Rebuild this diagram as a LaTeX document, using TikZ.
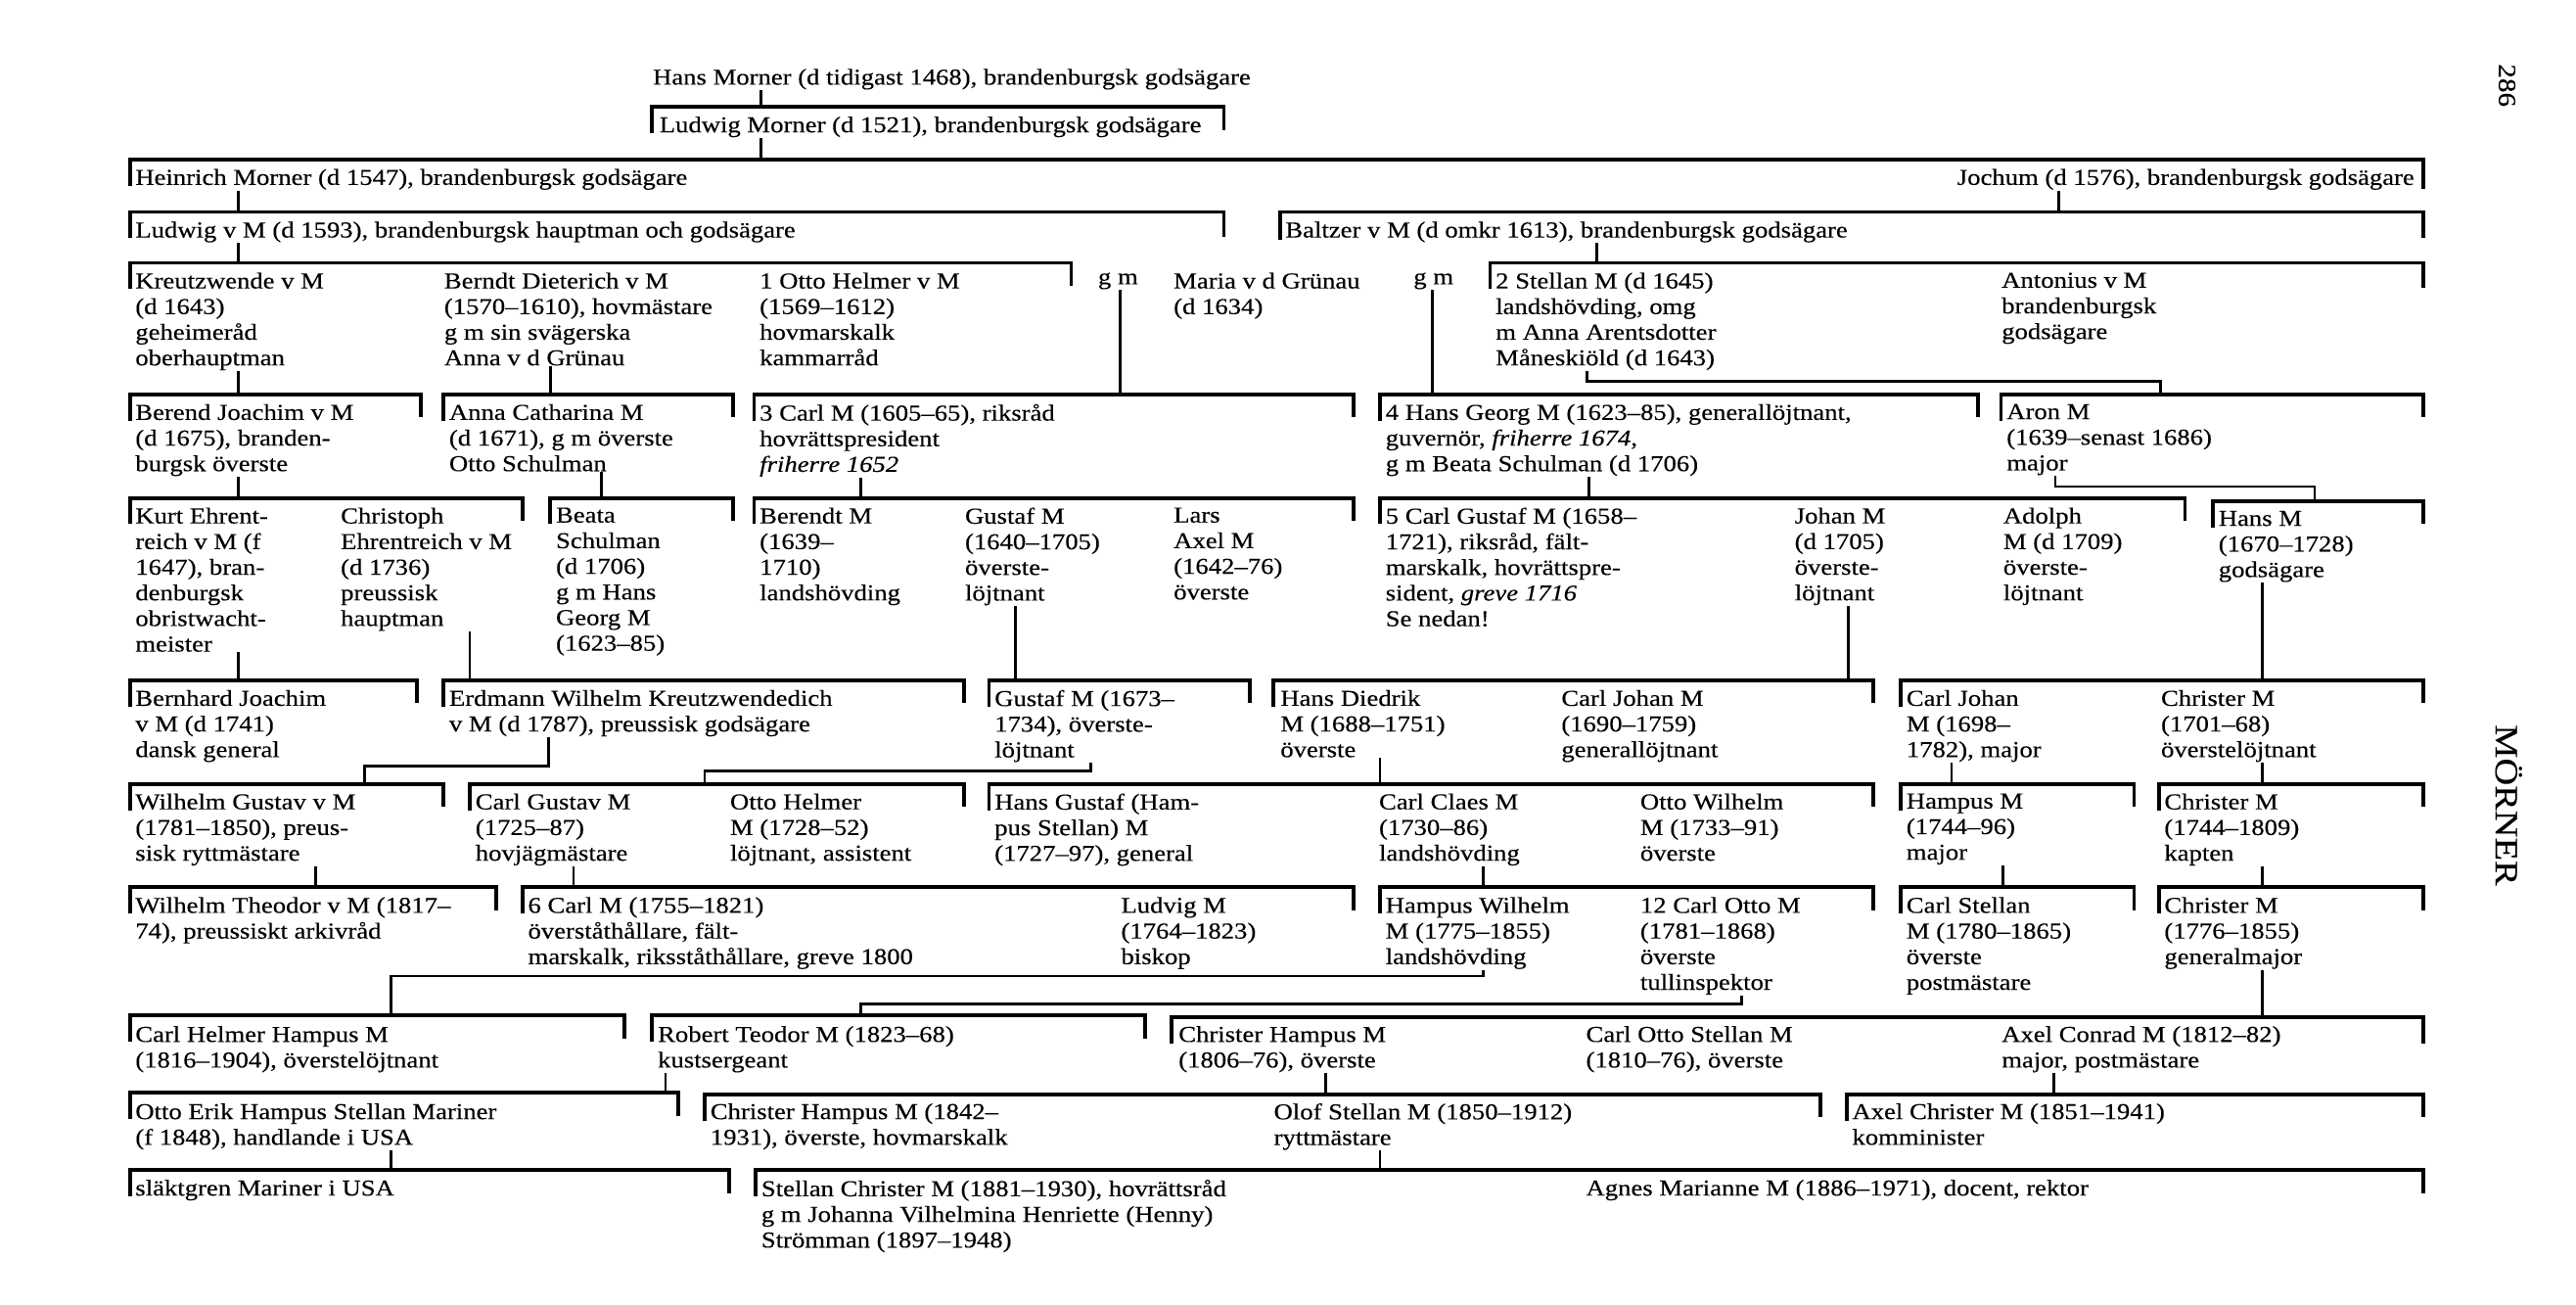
\documentclass[tikz,border=0pt]{standalone}
\usepackage{fontspec}
\setmainfont{Liberation Serif}[FakeStretch=1.15, FakeBold=0.3]
\newcommand{\chartfont}{\fontsize{6.6}{7.45}\selectfont}

\begin{document}
\begin{tikzpicture}[x=0.016786cm, y=-0.016786cm,
    pers/.style={anchor=north west, inner sep=0pt, align=left, font=\chartfont},
    brk/.style={line width=1.1pt},
    ln/.style={line width=0.75pt}]
  \useasboundingbox (0,0) rectangle (1568,794);

  % Page number and family name
  \node[rotate=-90, font=\fontsize{7.2}{8}\selectfont] (page) at (1526,52) {286};
  \node[rotate=-90, font=\fontsize{9.5}{11}\selectfont] (family) at (1527,490) {MÖRNER};

  % Oldest generations
  \node[pers] (hans) at (397,41.5) {Hans Morner (d tidigast 1468), brandenburgsk godsägare};
  \draw[ln] (hans.south -| 463,0) -- (463,65);
  \draw[brk] (397,81) |- (745,65) -- (745,79);
  \node[pers] (ludwigm) at (401,70.5) {Ludwig Morner (d 1521), brandenburgsk godsägare};
  \draw[ln] (ludwigm.south -| 463,0) -- (463,97);
  \draw[brk] (79,113) |- (1475,97) -- (1475,115);
  \node[pers] (heinrich) at (82,102.5) {Heinrich Morner (d 1547), brandenburgsk godsägare};
  \node[pers, anchor=north east] (jochum) at (1470,102.5) {Jochum (d 1576), brandenburgsk godsägare};
  \draw[ln] (heinrich.south -| 145,0) -- (145,129);
  \draw[ln] (jochum.south -| 1253,0) -- (1253,129);
  \draw[brk] (79,145) |- (745,129) -- (745,144);
  \draw[brk] (779,146) |- (1475,129) -- (1475,145);
  \node[pers] (ludwigvm) at (82,134.5) {Ludwig v M (d 1593), brandenburgsk hauptman och godsägare};
  \node[pers] (baltzer) at (782,134.5) {Baltzer v M (d omkr 1613), brandenburgsk godsägare};
  \draw[ln] (ludwigvm.south -| 145,0) -- (145,160);
  \draw[ln] (baltzer.south -| 972,0) -- (972,160);

  % Children of Ludwig and Baltzer
  \draw[brk] (79,176) |- (652,160) -- (652,174);
  \draw[brk] (907,176) |- (1475,160) -- (1475,175);
  \node[pers] (kreutz) at (82,165.5) {Kreutzwende v M\\(d 1643)\\geheimeråd\\oberhauptman};
  \node[pers] (berndt) at (270,165.5) {Berndt Dieterich v M\\(1570--1610), hovmästare\\g m sin svägerska\\Anna v d Grünau};
  \node[pers] (ottoh) at (462,165.5) {1 Otto Helmer v M\\(1569--1612)\\hovmarskalk\\kammarråd};
  \node[pers] (gma) at (668,165.5) {g m};
  \node[pers] (maria) at (714,165.5) {Maria v d Grünau\\(d 1634)};
  \node[pers] (gmb) at (860,165.5) {g m};
  \node[pers] (stellan) at (910,165.5) {2 Stellan M (d 1645)\\landshövding, omg\\m Anna Arentsdotter\\Måneskiöld (d 1643)};
  \node[pers] (antonius) at (1218,165.5) {Antonius v M\\brandenburgsk\\godsägare};
  \draw[ln] (kreutz.south -| 145,0) -- (145,240);
  \draw[ln] (berndt.south -| 335,0) -- (335,240);
  \draw[ln] (gma.south -| 682,0) -- (682,240);
  \draw[ln] (gmb.south -| 872,0) -- (872,240);
  \draw[ln] (stellan.south -| 966,0) -- (966,232) -- (1315,232) -- (1315,240);

  % Next generation
  \draw[brk] (79,256) |- (256,240) -- (256,254);
  \draw[brk] (270,256) |- (446,240) -- (446,254);
  \draw[brk] (459,256) |- (824,240) -- (824,254);
  \draw[brk] (840,256) |- (1204,240) -- (1204,254);
  \draw[brk] (1218,256) |- (1475,240) -- (1475,254);
  \node[pers] (berend) at (82,245.5) {Berend Joachim v M\\(d 1675), branden-\\burgsk överste};
  \node[pers] (annac) at (273,245.5) {Anna Catharina M\\(d 1671), g m överste\\Otto Schulman};
  \node[pers] (carl3) at (462,245.5) {3 Carl M (1605--65), riksråd\\hovrättspresident\\\textit{friherre 1652}};
  \node[pers] (hansg) at (843,245.5) {4 Hans Georg M (1623--85), generallöjtnant,\\guvernör, \textit{friherre 1674},\\g m Beata Schulman (d 1706)};
  \node[pers] (aron) at (1221,245.5) {Aron M\\(1639--senast 1686)\\major};
  \draw[ln] (berend.south -| 145,0) -- (145,303);
  \draw[ln] (annac.south -| 366,0) -- (366,303);
  \draw[ln] (carl3.south -| 524,0) -- (524,303);
  \draw[ln] (hansg.south -| 967,0) -- (967,303);
  \draw[ln] (aron.south -| 1251,0) -- (1251,296) -- (1409,296) -- (1409,305);

  \draw[brk] (79,319) |- (318,303) -- (318,317);
  \draw[brk] (335,319) |- (446,303) -- (446,317);
  \draw[brk] (459,319) |- (824,303) -- (824,317);
  \draw[brk] (840,319) |- (1330,303) -- (1330,317);
  \draw[brk] (1347,321) |- (1475,305) -- (1475,319);
  \node[pers] (kurt) at (82,308.5) {Kurt Ehrent-\\reich v M (f\\1647), bran-\\denburgsk\\obristwacht-\\meister};
  \node[pers] (christoph) at (207,308.5) {Christoph\\Ehrentreich v M\\(d 1736)\\preussisk\\hauptman};
  \node[pers] (beata) at (338,308.5) {Beata\\Schulman\\(d 1706)\\g m Hans\\Georg M\\(1623--85)};
  \node[pers] (berendt) at (462,308.5) {Berendt M\\(1639--\\1710)\\landshövding};
  \node[pers] (gustafa) at (587,308.5) {Gustaf M\\(1640--1705)\\överste-\\löjtnant};
  \node[pers] (lars) at (714,308.5) {Lars\\Axel M\\(1642--76)\\överste};
  \node[pers] (carlg5) at (843,308.5) {5 Carl Gustaf M (1658--\\1721), riksråd, fält-\\marskalk, hovrättspre-\\sident, \textit{greve 1716}\\Se nedan!};
  \node[pers] (johan) at (1092,308.5) {Johan M\\(d 1705)\\överste-\\löjtnant};
  \node[pers] (adolph) at (1219,308.5) {Adolph\\M (d 1709)\\överste-\\löjtnant};
  \node[pers] (hansm) at (1350,310.5) {Hans M\\(1670--1728)\\godsägare};
  \draw[ln] (kurt.south -| 145,0) -- (145,414);
  \draw[ln] (christoph.south -| 286,0) -- (286,414);
  \draw[ln] (gustafa.south -| 618,0) -- (618,414);
  \draw[ln] (johan.south -| 1125,0) -- (1125,414);
  \draw[ln] (hansm.south -| 1377,0) -- (1377,414);

  \draw[brk] (79,430) |- (254,414) -- (254,428);
  \draw[brk] (270,430) |- (587,414) -- (587,428);
  \draw[brk] (602,430) |- (761,414) -- (761,428);
  \draw[brk] (775,430) |- (1140,414) -- (1140,428);
  \draw[brk] (1157,430) |- (1475,414) -- (1475,428);
  \node[pers] (bernhard) at (82,419.5) {Bernhard Joachim\\v M (d 1741)\\dansk general};
  \node[pers] (erdmann) at (273,419.5) {Erdmann Wilhelm Kreutzwendedich\\v M (d 1787), preussisk godsägare};
  \node[pers] (gustafb) at (605,419.5) {Gustaf M (1673--\\1734), överste-\\löjtnant};
  \node[pers] (hansd) at (779,419.5) {Hans Diedrik\\M (1688--1751)\\överste};
  \node[pers] (carlja) at (950,419.5) {Carl Johan M\\(1690--1759)\\generallöjtnant};
  \node[pers] (carljb) at (1160,419.5) {Carl Johan\\M (1698--\\1782), major};
  \node[pers] (christera) at (1315,419.5) {Christer M\\(1701--68)\\överstelöjtnant};
  \draw[ln] (erdmann.south -| 334,0) -- (334,466) -- (222,466) -- (222,477);
  \draw[ln] (gustafb.south -| 664,0) -- (664,469) -- (429,469) -- (429,477);
  \draw[ln] (hansd.south -| 840,0) -- (840,477);
  \draw[ln] (carljb.south -| 1188,0) -- (1188,477);
  \draw[ln] (christera.south -| 1377,0) -- (1377,477);

  \draw[brk] (79,493) |- (270,477) -- (270,491);
  \draw[brk] (286,493) |- (587,477) -- (587,491);
  \draw[brk] (602,493) |- (1140,477) -- (1140,491);
  \draw[brk] (1157,493) |- (1299,477) -- (1299,491);
  \draw[brk] (1314,493) |- (1475,477) -- (1475,491);
  \node[pers] (wilhelmg) at (82,482.5) {Wilhelm Gustav v M\\(1781--1850), preus-\\sisk ryttmästare};
  \node[pers] (carlgustav) at (289,482.5) {Carl Gustav M\\(1725--87)\\hovjägmästare};
  \node[pers] (ottohb) at (444,482.5) {Otto Helmer\\M (1728--52)\\löjtnant, assistent};
  \node[pers] (hansgustaf) at (605,482.5) {Hans Gustaf (Ham-\\pus Stellan) M\\(1727--97), general};
  \node[pers] (carlclaes) at (839,482.5) {Carl Claes M\\(1730--86)\\landshövding};
  \node[pers] (ottow) at (998,482.5) {Otto Wilhelm\\M (1733--91)\\överste};
  \node[pers] (hampus) at (1160,482.5) {Hampus M\\(1744--96)\\major};
  \node[pers] (christerb) at (1317,482.5) {Christer M\\(1744--1809)\\kapten};
  \draw[ln] (wilhelmg.south -| 192,0) -- (192,540);
  \draw[ln] (carlgustav.south -| 349,0) -- (349,540);
  \draw[ln] (carlclaes.south -| 903,0) -- (903,540);
  \draw[ln] (hampus.south -| 1219,0) -- (1219,540);
  \draw[ln] (christerb.south -| 1377,0) -- (1377,540);

  \draw[brk] (79,556) |- (302,540) -- (302,554);
  \draw[brk] (318,556) |- (824,540) -- (824,554);
  \draw[brk] (840,556) |- (1140,540) -- (1140,554);
  \draw[brk] (1157,556) |- (1299,540) -- (1299,554);
  \draw[brk] (1314,556) |- (1475,540) -- (1475,554);
  \node[pers] (wilhelmt) at (82,545.5) {Wilhelm Theodor v M (1817--\\74), preussiskt arkivråd};
  \node[pers] (carl6) at (321,545.5) {6 Carl M (1755--1821)\\överståthållare, fält-\\marskalk, riksståthållare, greve 1800};
  \node[pers] (ludvig) at (682,545.5) {Ludvig M\\(1764--1823)\\biskop};
  \node[pers] (hampusw) at (843,545.5) {Hampus Wilhelm\\M (1775--1855)\\landshövding};
  \node[pers] (carlotto) at (998,545.5) {12 Carl Otto M\\(1781--1868)\\överste\\tullinspektor};
  \node[pers] (carlst) at (1160,545.5) {Carl Stellan\\M (1780--1865)\\överste\\postmästare};
  \node[pers] (christerc) at (1317,545.5) {Christer M\\(1776--1855)\\generalmajor};
  \draw[ln] (hampusw.south -| 903,0) -- (903,594) -- (238,594) -- (238,618);
  \draw[ln] (carlotto.south -| 1060,0) -- (1060,611) -- (524,611) -- (524,618);
  \draw[ln] (christerc.south -| 1377,0) -- (1377,619);

  % Nineteenth and twentieth centuries
  \draw[brk] (79,634) |- (380,618) -- (380,632);
  \draw[brk] (397,634) |- (697,618) -- (697,632);
  \draw[brk] (713,635) |- (1475,619) -- (1475,635);
  \node[pers] (carlhelmer) at (82,624) {Carl Helmer Hampus M\\(1816--1904), överstelöjtnant};
  \node[pers] (robert) at (400,624) {Robert Teodor M (1823--68)\\kustsergeant};
  \node[pers] (christerha) at (717,624) {Christer Hampus M\\(1806--76), överste};
  \node[pers] (carlos) at (965,624) {Carl Otto Stellan M\\(1810--76), överste};
  \node[pers] (axelc) at (1218,624) {Axel Conrad M (1812--82)\\major, postmästare};
  \draw[ln] (robert.south -| 405,0) -- (405,665);
  \draw[ln] (christerha.south -| 807,0) -- (807,666);
  \draw[ln] (axelc.south -| 1250,0) -- (1250,666);

  \draw[brk] (79,681) |- (413,665) -- (413,679);
  \draw[brk] (429,682) |- (1108,666) -- (1108,680);
  \draw[brk] (1124,682) |- (1475,666) -- (1475,680);
  \node[pers] (ottoe) at (82,671) {Otto Erik Hampus Stellan Mariner\\(f 1848), handlande i USA};
  \node[pers] (christerhb) at (432,671) {Christer Hampus M (1842--\\1931), överste, hovmarskalk};
  \node[pers] (olof) at (775,671) {Olof Stellan M (1850--1912)\\ryttmästare};
  \node[pers] (axelch) at (1127,671) {Axel Christer M (1851--1941)\\komminister};
  \draw[ln] (ottoe.south -| 238,0) -- (238,712);
  \draw[ln] (olof.south -| 840,0) -- (840,712);

  \draw[brk] (79,728) |- (444,712) -- (444,726);
  \draw[brk] (460,728) |- (1475,712) -- (1475,726);
  \node[pers] (mariner) at (82,717.5) {släktgren Mariner i USA};
  \node[pers] (stellanc) at (463,717.5) {Stellan Christer M (1881--1930), hovrättsråd\\g m Johanna Vilhelmina Henriette (Henny)\\Strömman (1897--1948)};
  \node[pers] (agnes) at (965,717.5) {Agnes Marianne M (1886--1971), docent, rektor};
\end{tikzpicture}
\end{document}
